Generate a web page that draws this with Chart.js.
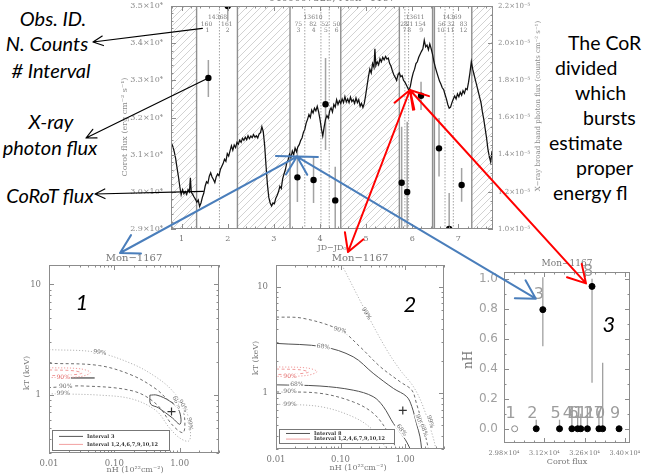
<!DOCTYPE html>
<html>
<head>
<meta charset="utf-8">
<script src="https://cdn.jsdelivr.net/npm/chart.js@4.4.1/dist/chart.umd.min.js"></script>
<style>
  html, body { margin: 0; padding: 0; background: #fff; }
  #page { position: relative; width: 647px; height: 476px; overflow: hidden; background: #fff; }
  canvas.cv { position: absolute; }
  #overlay { position: absolute; left: 0; top: 0; z-index: 10; pointer-events: none; }
  .note { position: absolute; z-index: 5; font-family: Lato, 'Open Sans', sans-serif; font-style: italic;
          font-size: 20px; color: #000; white-space: nowrap; transform: translate(-50%, -50%); }
  .side { position: absolute; z-index: 5; font-family: Lato, 'Open Sans', sans-serif; font-size: 19.5px;
          color: #000; white-space: nowrap; transform: translateY(-50%); }
  .pnum { position: absolute; z-index: 5; font-family: Lato, 'Open Sans', sans-serif; font-style: italic;
          font-size: 22px; color: #000; transform: translate(-50%, -50%); }
</style>
</head>
<body>
<div id="page">
  <canvas id="lc" class="cv" width="445" height="252" style="left:100px;top:0px"></canvas>
  <canvas id="p1" class="cv" width="230" height="226" style="left:0px;top:250px"></canvas>
  <canvas id="p2" class="cv" width="230" height="226" style="left:226px;top:250px"></canvas>
  <canvas id="p3" class="cv" width="202" height="226" style="left:445px;top:250px"></canvas>
  <canvas id="overlay" width="647" height="476"></canvas>

  <div class="note" style="left:53px;top:18px">Obs. ID.</div>
  <div class="note" style="left:47px;top:43px">N. Counts</div>
  <div class="note" style="left:51px;top:70px"># Interval</div>
  <div class="note" style="left:51px;top:121px">X-ray</div>
  <div class="note" style="left:50px;top:147px">photon flux</div>
  <div class="note" style="left:50px;top:195px">CoRoT flux</div>

  <div class="side" style="left:568px;top:42px">The CoR</div>
  <div class="side" style="left:555px;top:67px">divided</div>
  <div class="side" style="left:575px;top:92px">which</div>
  <div class="side" style="left:583px;top:117px">bursts</div>
  <div class="side" style="left:549px;top:142px">estimate</div>
  <div class="side" style="left:576px;top:167px">proper</div>
  <div class="side" style="left:553px;top:192px">energy fl</div>

  <div class="pnum" style="left:82px;top:301px">1</div>
  <div class="pnum" style="left:410px;top:303px">2</div>
  <div class="pnum" style="left:609px;top:323px">3</div>
</div>

<script>
// ---------------- CoRoT light curve (JD - JD0, flux in erg cm^-2 s^-1) ----------------
const lcTime = [0.78,0.81,0.84,0.87,0.90,0.93,0.96,0.99,1.02,1.05,1.08,1.11,1.14,1.17,1.19,1.21,1.24,1.27,1.30,1.33,
  1.36,1.39,1.42,1.45,1.48,1.51,1.54,1.57,1.60,1.63,1.66,1.69,1.72,1.75,1.78,1.81,1.84,1.87,1.90,1.93,
  1.96,1.99,2.02,2.05,2.08,2.11,2.14,2.17,2.20,2.23,2.26,2.29,2.32,2.35,2.38,2.41,2.44,2.47,2.50,2.53,
  2.56,2.59,2.62,2.65,2.68,2.71,2.74,2.77,2.80,2.83,2.86,2.89,2.92,2.95,2.98,3.01,3.04,3.07,3.10,3.13,
  3.16,3.19,3.22,3.25,3.28,3.31,3.34,3.37,3.40,3.43,3.46,3.49,3.52,3.55,3.58,3.61,3.64,3.67,3.70,3.73,
  3.76,3.79,3.82,3.85,3.88,3.91,3.94,3.97,4.00,4.03,4.06,4.09,4.12,4.15,4.18,4.21,4.24,4.27,4.30,4.33,
  4.36,4.39,4.42,4.45,4.48,4.51,4.54,4.57,4.60,4.63,4.66,4.69,4.72,4.75,4.78,4.81,4.84,4.87,4.90,4.93,
  4.96,4.99,5.02,5.05,5.08,5.11,5.14,5.17,5.19,5.21,5.24,5.27,5.30,5.33,5.36,5.39,5.42,5.45,5.48,5.51,
  5.54,5.57,5.60,5.63,5.66,5.69,5.72,5.75,5.78,5.81,5.84,5.87,5.90,5.93,5.96,5.99,6.02,6.05,6.08,6.11,
  6.14,6.17,6.20,6.23,6.26,6.29,6.32,6.35,6.38,6.41,6.44,6.47,6.50,6.53,6.56,6.59,6.62,6.65,6.68,6.71,
  6.74,6.77,6.80,6.83,6.86,6.89,6.92,6.95,6.98,7.01,7.04,7.07,7.10,7.13,7.16,7.19,7.22,7.25,7.28,7.31,
  7.34,7.37,7.40,7.43,7.46,7.49,7.52,7.55,7.58,7.61,7.64,7.67,7.70,7.73];
const lcFlux = [31310,31220,31080,30900,30650,30420,30150,29920,30060,29950,30010,29930,30060,30000,30380,29990,29930,29860,29800,29720,
  29780,29610,29700,29850,29960,30150,30270,30230,30420,30510,30400,30330,30250,30400,30480,30430,30600,30680,30760,30880,
  30820,31030,30960,31100,31240,31120,31260,31190,31330,31280,31390,31330,31440,31390,31470,31400,31510,31430,31500,31460,
  31540,31470,31510,31450,31560,31590,31750,31620,31250,30700,30200,29850,29700,29620,29700,29680,29820,29900,30000,30150,
  30090,30350,30480,30600,30780,30870,31010,30920,31100,31000,31180,31080,31210,31270,31380,31450,31600,31680,31850,31950,
  32080,32000,32200,32120,32250,32180,32300,32150,31950,31700,31500,31750,31950,32050,31980,32180,32260,32150,32350,32280,
  32480,32350,32450,32380,32500,32400,32560,32420,32500,32400,32550,32430,32480,32380,32530,32400,32480,32300,32380,32270,
  32380,32600,32850,33100,33300,33200,33450,33350,33850,33400,33500,33420,33580,33500,33620,33550,33640,33570,33600,33450,
  33380,33250,33150,33080,33000,33150,33200,33100,33130,33000,32950,32880,32800,32720,32850,33050,33200,33300,33450,33500,
  33620,33700,33780,33850,34080,33900,33950,33820,33980,33850,33700,33500,33350,33220,33100,32980,32900,32800,32750,32620,
  32500,32350,32250,32280,32400,32500,32580,32500,32640,32560,32680,32600,32720,32650,32780,32750,32950,33200,33500,33300,
  33150,33000,32850,32700,32550,32400,32150,31950,31700,31450,31150,30950,30800,31100];

// ---------------- X-ray intervals (broad band photon flux, counts cm^-2 s^-1) ----------------
const intervalNo  = [1, 2, 3, 4, 5, 6, 7, 8, 9, 10, 11, 12];
const xrTime      = [1.58, 2.00, 3.51, 3.86, 4.12, 4.33, 5.77, 5.89, 6.19, 6.58, 6.80, 7.07];
const xrFlux      = [1.813e-5, 2.20e-5, 1.278e-5, 1.264e-5, 1.671e-5, 1.154e-5, 1.249e-5, 1.199e-5, 1.717e-5, 1.434e-5, 1.00e-5, 1.237e-5];
const xrFluxLow   = [1.71e-5, 2.12e-5, 1.145e-5, 1.14e-5, 1.425e-5, 0.99e-5, 0.99e-5, 0.99e-5, 1.64e-5, 1.282e-5, 0.99e-5, 1.147e-5];
const xrFluxHigh  = [1.91e-5, 2.28e-5, 1.425e-5, 1.387e-5, 1.92e-5, 1.335e-5, 1.55e-5, 1.577e-5, 1.793e-5, 1.597e-5, 1.194e-5, 1.328e-5];
const netCounts   = ['160', '161', '75', '82', '52', '50', '28', '21', '154', '56', '32', '83'];
const countLabelT = [1.54, 1.98, 3.53, 3.85, 4.11, 4.36, 5.82, 5.94, 6.17, 6.64, 6.84, 7.11];
const intervalLabelT = [1.56, 2.00, 3.53, 3.86, 4.13, 4.36, 5.83, 5.93, 6.19, 6.62, 6.83, 7.11];
const obsIds      = ['14368', '13610', '13611', '14369'];
const obsIdT      = [1.78, 3.85, 6.06, 6.86];
const gapRanges   = [[0.70, 1.325], [2.21, 3.35], [4.45, 5.72], [7.29, 7.80]];
const solidCuts   = [1.325, 2.21, 3.35, 4.45, 5.72, 6.44, 6.48, 7.29];
const dottedCuts  = [1.82, 3.67, 4.02, 4.20, 5.84, 5.92, 6.71, 6.89];
const timeTicks   = [1, 2, 3, 4, 5, 6, 7];
const fluxTicks   = [29000, 30000, 31000, 32000, 33000, 34000, 35000];
const photonTicks = [1.0e-5, 1.2e-5, 1.4e-5, 1.6e-5, 1.8e-5, 2.0e-5, 2.2e-5];

// ---------------- Spectral confidence contours: interval 3 ----------------
const i3c99_nH = [0.01, 0.053, 0.19, 0.44, 0.78, 1.26, 1.46, 1.38, 1.0, 0.69, 0.44, 0.19, 0.06, 0.01];
const i3c99_kT = [2.58, 2.44, 1.91, 1.45, 1.09, 0.72, 0.47, 0.385, 0.41, 0.51, 0.72, 0.92, 1.0, 1.03];
const i3c90_nH = [0.01, 0.059, 0.193, 0.44, 0.69, 1.05, 1.19, 1.13, 0.79, 0.44, 0.193, 0.033, 0.01];
const i3c90_kT = [1.94, 1.85, 1.5, 1.13, 0.89, 0.77, 0.625, 0.46, 0.53, 0.83, 1.09, 1.21, 1.17];
const i3c68_nH = [0.35, 0.45, 0.69, 0.95, 1.05, 1.0, 0.78, 0.47, 0.36, 0.35];
const i3c68_kT = [1.0, 1.0, 0.89, 0.75, 0.6, 0.545, 0.62, 0.77, 0.83, 1.0];
const i3best   = [0.75, 0.71];
// ---------------- Spectral confidence contours: interval 8 ----------------
const i8c99u_nH = [0.105, 0.255, 0.52, 0.84, 1.35, 1.9, 2.7, 3.0];
const i8c99u_kT = [16, 5.6, 2.55, 1.65, 1.15, 0.75, 0.39, 0.3];
const i8c99l_nH = [0.01, 0.048, 0.157, 0.32, 0.52];
const i8c99l_kT = [0.79, 0.75, 0.6, 0.45, 0.3];
const i8c90u_nH = [0.01, 0.0265, 0.1, 0.2, 0.41, 0.84, 1.27, 1.5, 1.9, 2.3];
const i8c90u_kT = [5.2, 5.05, 3.9, 2.73, 1.78, 1.28, 1.07, 0.8, 0.49, 0.3];
const i8c90l_nH = [0.01, 0.048, 0.157, 0.32, 0.52, 0.74];
const i8c90l_kT = [1.03, 1.0, 0.83, 0.65, 0.45, 0.3];
const i8c68u_nH = [0.01, 0.054, 0.157, 0.32, 0.66, 1.06, 1.27, 1.5, 1.7, 1.8];
const i8c68u_kT = [2.94, 2.73, 2.2, 1.54, 1.11, 0.93, 0.75, 0.52, 0.39, 0.3];
const i8c68l_nH = [0.01, 0.048, 0.157, 0.32, 0.46, 0.66, 1.0, 1.2];
const i8c68l_kT = [1.2, 1.17, 1.07, 0.93, 0.75, 0.52, 0.37, 0.3];
const i8best    = [0.92, 0.69];
// ---------------- Contours of the merged intervals 1,2,4,6,7,9,10,12 ----------------
const mrg99_nH = [0.01, 0.03, 0.043, 0.03, 0.01];
const mrg99_kT = [1.77, 1.73, 1.6, 1.47, 1.44];
const mrg90_nH = [0.01, 0.024, 0.032, 0.021, 0.01];
const mrg90_kT = [1.69, 1.66, 1.58, 1.52, 1.5];
const mrg68_nH = [0.0175, 0.05];
const mrg68_kT = [1.43, 1.43];

// ---------------- Absorption versus CoRoT flux ----------------
const corotAtInterval = [30170, 30920, 31150, 32160, 31730, 32360, 33230, 32860, 33800, 33100, 32470, 32700];
const nHFit    = [0, 0, 0.794, 0, 0, 0, 0, 0.949, 0, 0, 0, 0];
const nHLow    = [0, 0, 0.55, 0, 0, 0, 0, 0.307, 0, 0, 0, 0];
const nHHigh   = [0, 0.06, 1.01, 0.08, 0.06, 0.09, 0.44, 1.0, 0.0, 0.12, 0.1, 0.14];
const nHOpen   = [true, false, false, false, false, false, false, false, false, false, false, false];
const corotTicks = [29800, 31200, 32600, 34000];
const nHTicks  = [0.0, 0.2, 0.4, 0.6, 0.8, 1.0];

// ---------------- drawing helpers ----------------
const SERIF = "'DejaVu Serif', 'Liberation Serif', serif";
const FRAME = '#8c8c8c';
const INK = '#7a7a7a';

function pts(xs, ys) { return xs.map((x, i) => ({ x: x, y: ys[i] })); }

function text(ctx, s, x, y, o) {
  ctx.save();
  ctx.font = o.font;
  ctx.textAlign = o.align || 'center';
  ctx.textBaseline = o.base || 'middle';
  ctx.translate(x, y);
  if (o.rot) ctx.rotate(o.rot * Math.PI / 180);
  if (o.bg) {
    const w = ctx.measureText(s).width;
    ctx.fillStyle = o.bg;
    ctx.fillRect(-w / 2 - 1, -(o.h || 7) / 2, w + 2, o.h || 7);
  }
  ctx.fillStyle = o.color || INK;
  ctx.fillText(s, 0, 0);
  ctx.restore();
}

function frameAndTicks(chart, spec) {
  const ctx = chart.ctx, a = chart.chartArea;
  ctx.save();
  ctx.strokeStyle = FRAME;
  ctx.lineWidth = 1;
  ctx.strokeRect(Math.round(a.left) + 0.5, Math.round(a.top) + 0.5,
                 Math.round(a.right - a.left) - 1, Math.round(a.bottom - a.top) - 1);
  ctx.beginPath();
  spec.forEach(s => {
    const sc = chart.scales[s.id];
    [[s.major, 5], [s.minor || [], 2.5]].forEach(([vals, len]) => {
      vals.forEach(v => {
        const p = sc.getPixelForValue(v);
        if (sc.isHorizontal()) {
          if (p < a.left - 0.5 || p > a.right + 0.5) return;
          const x = Math.round(p) + 0.5;
          ctx.moveTo(x, a.bottom); ctx.lineTo(x, a.bottom - len);
          if (s.mirror) { ctx.moveTo(x, a.top); ctx.lineTo(x, a.top + len); }
        } else {
          if (p < a.top - 0.5 || p > a.bottom + 0.5) return;
          const y = Math.round(p) + 0.5;
          if (s.side !== 'right') { ctx.moveTo(a.left, y); ctx.lineTo(a.left + len, y); }
          if (s.side !== 'left') { ctx.moveTo(a.right, y); ctx.lineTo(a.right - len, y); }
        }
      });
    });
  });
  ctx.stroke();
  ctx.restore();
}

function stepList(from, to, step) {
  const out = [];
  for (let v = from; v <= to + step * 1e-6; v += step) out.push(+v.toFixed(8));
  return out;
}
function logMinors(decades) {
  const out = [];
  decades.forEach(d => { for (let k = 2; k <= 9; k++) out.push(d * k); });
  return out;
}
function sup(n) {
  const m = { '-': '⁻', '0': '⁰', '1': '¹', '2': '²', '3': '³', '4': '⁴', '5': '⁵', '6': '⁶', '7': '⁷', '8': '⁸', '9': '⁹' };
  return String(n).split('').map(c => m[c]).join('');
}
// scale boxes with a fixed size and no extra label overhang
function fixedWidth(w) { return s => { s.width = w; s.paddingTop = 0; s.paddingBottom = 0; }; }
function fixedHeight(h) { return s => { s.height = h; s.paddingLeft = 0; s.paddingRight = 0; }; }

const baseOpts = {
  responsive: false, animation: false, events: [],
  plugins: { legend: { display: false }, tooltip: { enabled: false }, title: { display: false } }
};

// ---------------- light curve with X-ray intervals ----------------
function hatch(ctx) {
  const c = document.createElement('canvas');
  c.width = 7; c.height = 7;
  const g = c.getContext('2d');
  g.strokeStyle = '#cdcdcd';
  g.lineWidth = 0.9;
  g.beginPath();
  g.moveTo(0, 7); g.lineTo(7, 0);
  g.moveTo(-1, 1); g.lineTo(1, -1);
  g.moveTo(6, 8); g.lineTo(8, 6);
  g.stroke();
  return ctx.createPattern(c, 'repeat');
}

const lcPlugin = {
  id: 'lcDecor',
  beforeDatasetsDraw(chart) {
    const ctx = chart.ctx, a = chart.chartArea, x = chart.scales.x, y2 = chart.scales.y2;
    ctx.save();
    ctx.beginPath(); ctx.rect(a.left, a.top, a.right - a.left, a.bottom - a.top); ctx.clip();
    ctx.fillStyle = hatch(ctx);
    gapRanges.forEach(([t0, t1]) => {
      const x0 = x.getPixelForValue(t0), x1 = x.getPixelForValue(t1);
      ctx.fillRect(x0, a.top, x1 - x0, a.bottom - a.top);
    });
    ctx.strokeStyle = '#8f8f8f'; ctx.lineWidth = 1.4;
    ctx.beginPath();
    solidCuts.forEach(t => { const px = x.getPixelForValue(t); ctx.moveTo(px, a.top); ctx.lineTo(px, a.bottom); });
    ctx.stroke();
    ctx.strokeStyle = '#9a9a9a'; ctx.lineWidth = 0.9; ctx.setLineDash([1.5, 1.5]);
    ctx.beginPath();
    dottedCuts.forEach(t => { const px = x.getPixelForValue(t); ctx.moveTo(px, a.top); ctx.lineTo(px, a.bottom); });
    ctx.stroke();
    ctx.setLineDash([]);
    ctx.strokeStyle = '#a3a3a3'; ctx.lineWidth = 1.5;
    ctx.beginPath();
    xrTime.forEach((t, i) => {
      const px = x.getPixelForValue(t);
      ctx.moveTo(px, y2.getPixelForValue(xrFluxLow[i]));
      ctx.lineTo(px, y2.getPixelForValue(xrFluxHigh[i]));
    });
    ctx.stroke();
    ctx.restore();
  },
  afterDatasetsDraw(chart) {
    const ctx = chart.ctx, a = chart.chartArea, x = chart.scales.x;
    frameAndTicks(chart, [
      { id: 'x', major: timeTicks, minor: stepList(0.8, 7.6, 0.2), mirror: true },
      { id: 'y', major: fluxTicks, minor: stepList(29000, 35000, 200), side: 'left' },
      { id: 'y2', major: photonTicks, minor: stepList(1.0e-5, 2.2e-5, 0.05e-5), side: 'right' }
    ]);
    const f6 = '6px ' + SERIF;
    obsIds.forEach((s, i) => text(ctx, s, x.getPixelForValue(obsIdT[i]), a.top + 11, { font: f6, color: '#777' }));
    netCounts.forEach((s, i) => text(ctx, s, x.getPixelForValue(countLabelT[i]), a.top + 18, { font: f6, color: '#777' }));
    intervalNo.forEach((n, i) => text(ctx, String(n), x.getPixelForValue(intervalLabelT[i]), a.top + 24, { font: f6, color: '#777' }));
    const cx = (a.left + a.right) / 2;
    text(ctx, '0400007523, Mon\u22121167', cx, a.top - 2.5, { font: '10px ' + SERIF, base: 'bottom', color: '#777' });
    text(ctx, 'JD\u2212JD\u2080', cx, a.bottom + 19, { font: '8px ' + SERIF, color: '#777' });
    text(ctx, 'Corot flux (erg cm\u207b\u00b2 s\u207b\u00b9)', a.left - 46, 127, { font: '8px ' + SERIF, rot: -90, color: '#8a8a8a' });
    text(ctx, 'X\u2212ray broad band photon flux (counts cm\u207b\u00b2 s\u207b\u00b9)', a.right + 45, 106, { font: '7px ' + SERIF, rot: -90, color: '#8a8a8a' });
  }
};

const lcChart = new Chart(document.getElementById('lc'), {
  type: 'scatter',
  data: {
    datasets: [
      { data: pts(lcTime, lcFlux), yAxisID: 'y', showLine: true, borderColor: '#111', borderWidth: 1.25,
        pointRadius: 0, tension: 0 },
      { data: pts(xrTime, xrFlux), yAxisID: 'y2', pointRadius: 3.2, backgroundColor: '#000', borderColor: '#000', borderWidth: 0 }
    ]
  },
  options: {
    ...baseOpts,
    layout: { padding: { top: 6, right: 0, bottom: 0, left: 0 } },
    scales: {
      x: { type: 'linear', min: 0.77, max: 7.75, afterFit: fixedHeight(23),
           afterBuildTicks: s => { s.ticks = timeTicks.map(v => ({ value: v })); },
           grid: { display: false, drawTicks: false }, border: { display: false },
           ticks: { font: { family: SERIF, size: 8 }, color: '#777', padding: 5, maxRotation: 0,
                    callback: v => String(v) } },
      y: { position: 'left', min: 29000, max: 35000, afterFit: fixedWidth(71),
           afterBuildTicks: s => { s.ticks = fluxTicks.map(v => ({ value: v })); },
           grid: { display: false, drawTicks: false }, border: { display: false },
           ticks: { font: { family: SERIF, size: 8 }, color: '#8a8a8a', padding: 8,
                    callback: v => (v / 1e4).toFixed(1) + '\u00d710' + sup(4) } },
      y2: { position: 'right', min: 1.0e-5, max: 2.2e-5, afterFit: fixedWidth(52),
            afterBuildTicks: s => { s.ticks = photonTicks.map(v => ({ value: v })); },
            grid: { display: false, drawTicks: false }, border: { display: false },
            ticks: { font: { family: SERIF, size: 7 }, color: '#8a8a8a', padding: 5,
                     callback: v => (v * 1e5).toFixed(1) + '\u00d710' + sup(-5) } }
    }
  },
  plugins: [lcPlugin]
});

// ---------------- contour panels ----------------
const C99 = '#b4b4b4', C90 = '#6e6e6e', C68 = '#505050', CRED = '#f09a9a';
function contour(xs, ys, color, dash, width) {
  return { data: pts(xs, ys), showLine: true, pointRadius: 0, borderColor: color,
           borderWidth: width || 1, borderDash: dash, tension: 0.35, fill: false };
}
function bestFit(p) {
  return { data: [{ x: p[0], y: p[1] }], pointStyle: 'cross', pointRadius: 4, borderColor: '#333', borderWidth: 1.2 };
}

function contourPanel(id, cfg) {
  const plugin = {
    id: 'cp_' + id,
    afterDatasetsDraw(chart) {
      const ctx = chart.ctx, a = chart.chartArea, x = chart.scales.x, y = chart.scales.y;
      frameAndTicks(chart, [
        { id: 'x', major: [0.01, 0.1, 1], minor: logMinors([0.01, 0.1, 1]), mirror: true },
        { id: 'y', major: [1, 10], minor: logMinors([0.1, 1, 10]), side: 'both' }
      ]);
      cfg.labels.forEach(l => text(ctx, l.s, x.getPixelForValue(l.nH), y.getPixelForValue(l.kT),
        { font: '6px ' + SERIF, color: l.c || '#666', bg: '#fff', rot: l.r || 0, h: 6 }));
      // legend box
      const bx = a.left + cfg.box[0], by = a.bottom - cfg.box[1] - cfg.box[3], bw = cfg.box[2], bh = cfg.box[3];
      ctx.save();
      ctx.fillStyle = '#fff'; ctx.fillRect(bx, by, bw, bh);
      ctx.strokeStyle = '#777'; ctx.lineWidth = 1; ctx.strokeRect(bx + 0.5, by + 0.5, bw, bh);
      const r1 = by + bh * 0.32, r2 = by + bh * 0.72;
      ctx.lineWidth = 1;
      ctx.strokeStyle = '#555'; ctx.beginPath(); ctx.moveTo(bx + 7, r1); ctx.lineTo(bx + 31, r1); ctx.stroke();
      ctx.strokeStyle = '#f2a0a0'; ctx.beginPath(); ctx.moveTo(bx + 7, r2); ctx.lineTo(bx + 31, r2); ctx.stroke();
      ctx.restore();
      text(ctx, cfg.legend[0], bx + 35, r1, { font: 'bold 5px ' + SERIF, align: 'left', color: '#333' });
      text(ctx, cfg.legend[1], bx + 35, r2, { font: 'bold 5px ' + SERIF, align: 'left', color: '#333' });
      text(ctx, 'Mon\u22121167', (a.left + a.right) / 2, a.top - 7, { font: '10px ' + SERIF, color: '#777' });
      text(ctx, 'nH (10\u00b2\u00b2cm\u207b\u00b2)', cfg.xt[0], cfg.xt[1], { font: '8px ' + SERIF, color: '#777' });
      text(ctx, 'kT (keV)', cfg.yt[0], cfg.yt[1], { font: '8px ' + SERIF, color: '#777', rot: -90 });
    }
  };
  return new Chart(document.getElementById(id), {
    type: 'scatter',
    data: { datasets: cfg.datasets },
    options: {
      ...baseOpts,
      layout: { padding: { top: 15, right: cfg.padRight, bottom: 0, left: 0 } },
      scales: {
        x: { type: 'logarithmic', min: 0.01, max: 4, afterFit: fixedHeight(cfg.xh),
             afterBuildTicks: s => { s.ticks = [0.01, 0.1, 1].map(v => ({ value: v })); },
             grid: { display: false, drawTicks: false }, border: { display: false },
             ticks: { font: { family: SERIF, size: 8.5 }, color: '#777', padding: 6, maxRotation: 0,
                      callback: v => Number(v).toFixed(2) } },
        y: { type: 'logarithmic', min: 0.3, max: cfg.kTmax, afterFit: fixedWidth(cfg.yw),
             afterBuildTicks: s => { s.ticks = [1, 10].map(v => ({ value: v })); },
             grid: { display: false, drawTicks: false }, border: { display: false },
             ticks: { font: { family: SERIF, size: 8.5 }, color: '#777', padding: 8,
                      callback: v => String(v) } }
      }
    },
    plugins: [plugin]
  });
}

const p1Chart = contourPanel('p1', {
  padRight: 11, xh: 23, yw: 49, kTmax: 15,
  box: [3, 3, 117, 20],
  legend: ['Interval 3', 'Interval 1,2,4,6,7,9,10,12'],
  xt: [135, 220], yt: [27, 123],
  datasets: [
    contour(i3c99_nH, i3c99_kT, C99, [1.2, 1.8]),
    contour(i3c90_nH, i3c90_kT, C90, [3, 2.5]),
    contour(i3c68_nH, i3c68_kT, C68, []),
    contour(mrg99_nH, mrg99_kT, CRED, [1.2, 1.8]),
    contour(mrg90_nH, mrg90_kT, CRED, [3, 2.5]),
    contour(mrg68_nH, mrg68_kT, '#444', [], 1.2),
    bestFit(i3best)
  ],
  labels: [
    { s: '99%', nH: 0.06, kT: 2.42, r: 8 },
    { s: '90%', nH: 0.0165, kT: 1.45, c: '#e06060' },
    { s: '90%', nH: 0.018, kT: 1.2 },
    { s: '99%', nH: 0.0165, kT: 1.03 },
    { s: '68%', nH: 0.9, kT: 0.86, r: 62 },
    { s: '90%', nH: 1.12, kT: 0.8, r: 62 },
    { s: '99%', nH: 1.42, kT: 0.55, r: 82 }
  ]
});

const p2Chart = contourPanel('p2', {
  padRight: 12, xh: 27, yw: 50, kTmax: 16,
  box: [3, 6, 115, 14],
  legend: ['Interval 8', 'Interval 1,2,4,6,7,9,10,12'],
  xt: [132, 218], yt: [30, 108],
  datasets: [
    contour(i8c99u_nH, i8c99u_kT, C99, [1.2, 1.8]),
    contour(i8c99l_nH, i8c99l_kT, C99, [1.2, 1.8]),
    contour(i8c90u_nH, i8c90u_kT, C90, [3, 2.5]),
    contour(i8c90l_nH, i8c90l_kT, C90, [3, 2.5]),
    contour(i8c68u_nH, i8c68u_kT, C68, []),
    contour(i8c68l_nH, i8c68l_kT, C68, []),
    contour(mrg99_nH, mrg99_kT, CRED, [1.2, 1.8]),
    contour(mrg90_nH, mrg90_kT, CRED, [3, 2.5]),
    bestFit(i8best)
  ],
  labels: [
    { s: '99%', nH: 0.25, kT: 5.6, r: 58 },
    { s: '90%', nH: 0.098, kT: 3.9, r: 16 },
    { s: '68%', nH: 0.054, kT: 2.73, r: 8 },
    { s: '90%', nH: 0.0165, kT: 1.45, c: '#e06060' },
    { s: '68%', nH: 0.021, kT: 1.2 },
    { s: '90%', nH: 0.0165, kT: 1.03 },
    { s: '99%', nH: 0.0165, kT: 0.79 },
    { s: '68%', nH: 0.88, kT: 0.45, r: 52 },
    { s: '90%', nH: 1.65, kT: 0.55, r: 72 },
    { s: '68%', nH: 1.95, kT: 0.45, r: 72 },
    { s: '99%', nH: 2.45, kT: 0.54, r: 72 }
  ]
});

// ---------------- nH against CoRoT flux ----------------
const p3Plugin = {
  id: 'nhDecor',
  beforeDatasetsDraw(chart) {
    const ctx = chart.ctx, x = chart.scales.x, y = chart.scales.y;
    ctx.save();
    ctx.strokeStyle = '#a0a0a0'; ctx.lineWidth = 1.3;
    ctx.beginPath();
    corotAtInterval.forEach((c, i) => {
      if (nHHigh[i] <= nHLow[i]) return;
      const px = x.getPixelForValue(c);
      ctx.moveTo(px, y.getPixelForValue(nHLow[i]));
      ctx.lineTo(px, y.getPixelForValue(nHHigh[i]));
    });
    ctx.stroke();
    ctx.restore();
  },
  afterDatasetsDraw(chart) {
    const ctx = chart.ctx, a = chart.chartArea, x = chart.scales.x, y = chart.scales.y;
    frameAndTicks(chart, [
      { id: 'x', major: corotTicks, minor: stepList(29800, 34000, 350), mirror: true },
      { id: 'y', major: nHTicks, minor: stepList(0, 1.0, 0.1), side: 'both' }
    ]);
    intervalNo.forEach((n, i) => {
      text(ctx, String(n), x.getPixelForValue(corotAtInterval[i]) - 4, y.getPixelForValue(nHFit[i]) - 15,
        { font: '16px DejaVu Sans, sans-serif', color: '#9d9d9d' });
    });
    text(ctx, 'Mon\u22121167', (a.left + a.right) / 2, a.top - 8, { font: '9px ' + SERIF, color: '#777' });
    text(ctx, 'Corot flux', (a.left + a.right) / 2, a.bottom + 19, { font: '8px ' + SERIF, color: '#777' });
    text(ctx, 'nH', a.left - 35, 110, { font: '12px ' + SERIF, color: '#777', rot: -90 });
  }
};

const p3Chart = new Chart(document.getElementById('p3'), {
  type: 'scatter',
  data: {
    datasets: [{
      data: pts(corotAtInterval, nHFit), pointRadius: 3,
      backgroundColor: ctx => nHOpen[ctx.dataIndex] ? '#fff' : '#000',
      borderColor: ctx => nHOpen[ctx.dataIndex] ? '#888' : '#000', borderWidth: 1
    }]
  },
  options: {
    ...baseOpts,
    layout: { padding: { top: 22, right: 17, bottom: 0, left: 0 } },
    scales: {
      x: { type: 'linear', min: 29800, max: 34180, afterFit: fixedHeight(33),
           afterBuildTicks: s => { s.ticks = corotTicks.map(v => ({ value: v })); },
           grid: { display: false, drawTicks: false }, border: { display: false },
           ticks: { font: { family: SERIF, size: 6.5 }, color: '#777', padding: 6, maxRotation: 0,
                    callback: v => (v / 1e4).toFixed(2) + '\u00d710' + sup(4) } },
      y: { min: -0.095, max: 1.045, afterFit: fixedWidth(59),
           afterBuildTicks: s => { s.ticks = nHTicks.map(v => ({ value: v })); },
           grid: { display: false, drawTicks: false }, border: { display: false },
           ticks: { font: { family: 'DejaVu Sans', size: 12 }, color: '#a0a0a0', padding: 6,
                    callback: v => Number(v).toFixed(1) } }
    }
  },
  plugins: [p3Plugin]
});

// ---------------- annotation arrows ----------------
function pageXY(chart, sx, sy, vx, vy) {
  const c = chart.canvas;
  return [c.offsetLeft + chart.scales[sx].getPixelForValue(vx), c.offsetTop + chart.scales[sy].getPixelForValue(vy)];
}
function head(ctx, tip, from, len, ang) {
  const d = Math.atan2(from[1] - tip[1], from[0] - tip[0]);
  [-ang, ang].forEach(s => {
    ctx.moveTo(tip[0], tip[1]);
    ctx.lineTo(tip[0] + len * Math.cos(d + s), tip[1] + len * Math.sin(d + s));
  });
}
function arrow(ctx, p, q, o) {
  ctx.save();
  ctx.strokeStyle = o.color; ctx.lineWidth = o.w; ctx.lineCap = 'round';
  ctx.beginPath();
  ctx.moveTo(p[0], p[1]); ctx.lineTo(q[0], q[1]);
  head(ctx, q, p, o.len, o.ang);
  if (o.both) head(ctx, p, q, o.len, o.ang);
  ctx.stroke();
  ctx.restore();
}

const ov = document.getElementById('overlay').getContext('2d');
const blueHub = pageXY(lcChart, 'x', 'y', 3.5, 30950);
const redHub = pageXY(lcChart, 'x', 'y', 5.95, 32740);
const bluePanel3 = pageXY(p3Chart, 'x', 'y', corotAtInterval[2], nHFit[2]);
const redPanel3 = pageXY(p3Chart, 'x', 'y', corotAtInterval[7], nHFit[7]);
const BLUE = '#4a7ebb', RED = '#ff0000';
arrow(ov, blueHub, [120, 253], { color: BLUE, w: 2, len: 21, ang: 0.52, both: true });
arrow(ov, blueHub, [bluePanel3[0] - 7, bluePanel3[1] - 11], { color: BLUE, w: 2, len: 21, ang: 0.52, both: true });
arrow(ov, redHub, [348, 252], { color: RED, w: 2, len: 20, ang: 0.52, both: true });
arrow(ov, redHub, [redPanel3[0] - 6, redPanel3[1] - 3], { color: RED, w: 2, len: 20, ang: 0.52, both: true });

const countsAnchor = pageXY(lcChart, 'x', 'y', 1.45, 34400);
const xrayAnchor = pageXY(lcChart, 'x', 'y2', xrTime[0], xrFlux[0]);
const corotAnchor = pageXY(lcChart, 'x', 'y', 1.47, 30010);
arrow(ov, countsAnchor, [93, 42], { color: '#000', w: 1.2, len: 11, ang: 0.45 });
arrow(ov, xrayAnchor, [86, 138], { color: '#000', w: 1.2, len: 11, ang: 0.45 });
arrow(ov, corotAnchor, [95, 194], { color: '#000', w: 1.2, len: 11, ang: 0.45 });
</script>
</body>
</html>
